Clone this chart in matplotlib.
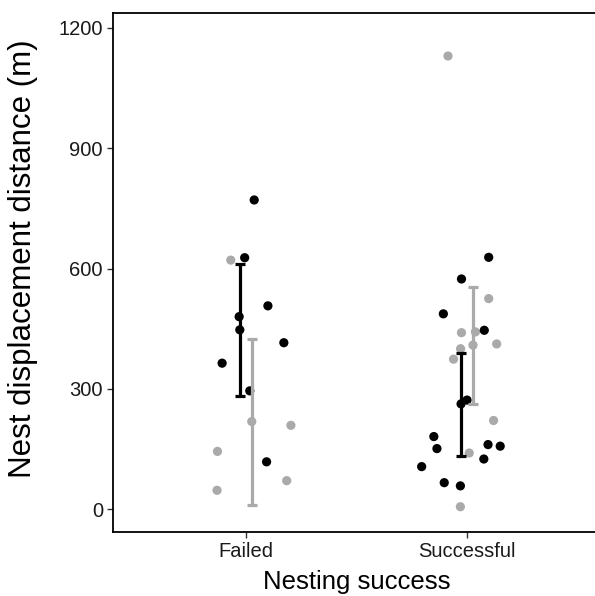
import matplotlib
matplotlib.use("Agg")
import matplotlib.pyplot as plt
import numpy as np

plt.rcParams['font.family'] = ['Liberation Sans', 'DejaVu Sans']

# ---- data ----
categories = ["Failed", "Successful"]

# black group
black_failed = [771, 627, 507, 480, 415, 364, 295, 118]
black_failed_jit = [0.038, -0.005, 0.10, -0.03, 0.172, -0.107, 0.018, 0.094]
black_succ = [628, 574, 487, 446, 272, 181, 151, 161, 157, 125, 106, 66, 58]
black_succ_jit = [0.098, -0.025, -0.107, 0.078, 0.0, -0.15, -0.136, 0.095, 0.15, 0.076, -0.205, -0.103, -0.03]

# grey group
grey_failed = [621, 209, 144, 71, 47]
grey_failed_jit = [-0.068, 0.204, -0.128, 0.185, -0.13]
grey_succ = [1130, 525, 440, 442, 412, 400, 374, 221, 140, 6]
grey_succ_jit = [-0.086, 0.098, -0.025, 0.038, 0.134, -0.029, -0.061, 0.12, 0.01, -0.03]

# error bar bounds
black_lower = [283, 133]
black_upper = [611, 390]
grey_lower = [11.5, 262.5]
grey_upper = [424.6, 555]

BLACK = "#000000"
GREY = "#aaaaaa"

fig = plt.figure(figsize=(5.95, 5.96), dpi=100)
ax = fig.add_axes([0.19, 0.1074, 1.008 - 0.19, 0.978 - 0.1074])

xpos = np.arange(1, len(categories) + 1)
dodge = 0.027

groups = [
    (GREY, [grey_failed, grey_succ], [grey_failed_jit, grey_succ_jit], grey_lower, grey_upper, +dodge),
    (BLACK, [black_failed, black_succ], [black_failed_jit, black_succ_jit], black_lower, black_upper, -dodge),
]

PS = 44
for col, vals, jits, lo, hi, off in groups:
    for i, (v, j) in enumerate(zip(vals, jits)):
        ax.scatter(xpos[i] + np.array(j), v, s=PS, color=col, edgecolors='none', zorder=3)

for col, vals, jits, lo, hi, off in groups:
    means = [np.mean(v) for v in vals]
    for i in range(len(categories)):
        x = xpos[i] + off
        ax.plot([x, x], [lo[i], hi[i]], color=col, lw=2.3, zorder=4, solid_capstyle='butt')
        ax.plot([x - 0.023, x + 0.023], [lo[i], lo[i]], color=col, lw=2.3, zorder=4, solid_capstyle='butt')
        ax.plot([x - 0.023, x + 0.023], [hi[i], hi[i]], color=col, lw=2.3, zorder=4, solid_capstyle='butt')
        ax.scatter([x], [means[i]], s=PS, color=col, edgecolors='none', zorder=5)

ax.set_xlim(0.4, 2.6)
ax.set_ylim(-57, 1237)
ax.set_xticks(xpos)
ax.set_xticklabels(categories)
ax.set_yticks([0, 300, 600, 900, 1200])

for s in ['left', 'bottom', 'top', 'right']:
    ax.spines[s].set_linewidth(1.3)
    ax.spines[s].set_color('black')

ax.tick_params(axis='both', length=4.3, width=1.0, color='#333333', labelsize=14.5, labelcolor='#1a1a1a', pad=3)

ax.set_xlabel("Nesting success", fontsize=18.5)
ax.set_ylabel("Nest displacement distance (m)", fontsize=22.5)
ax.xaxis.set_label_coords(0.5, -0.097)
ax.xaxis.label.set_verticalalignment('center')
ax.yaxis.set_label_coords(-0.184, 0.527)
ax.yaxis.label.set_verticalalignment('center')

fig.savefig("out.png", dpi=100)
